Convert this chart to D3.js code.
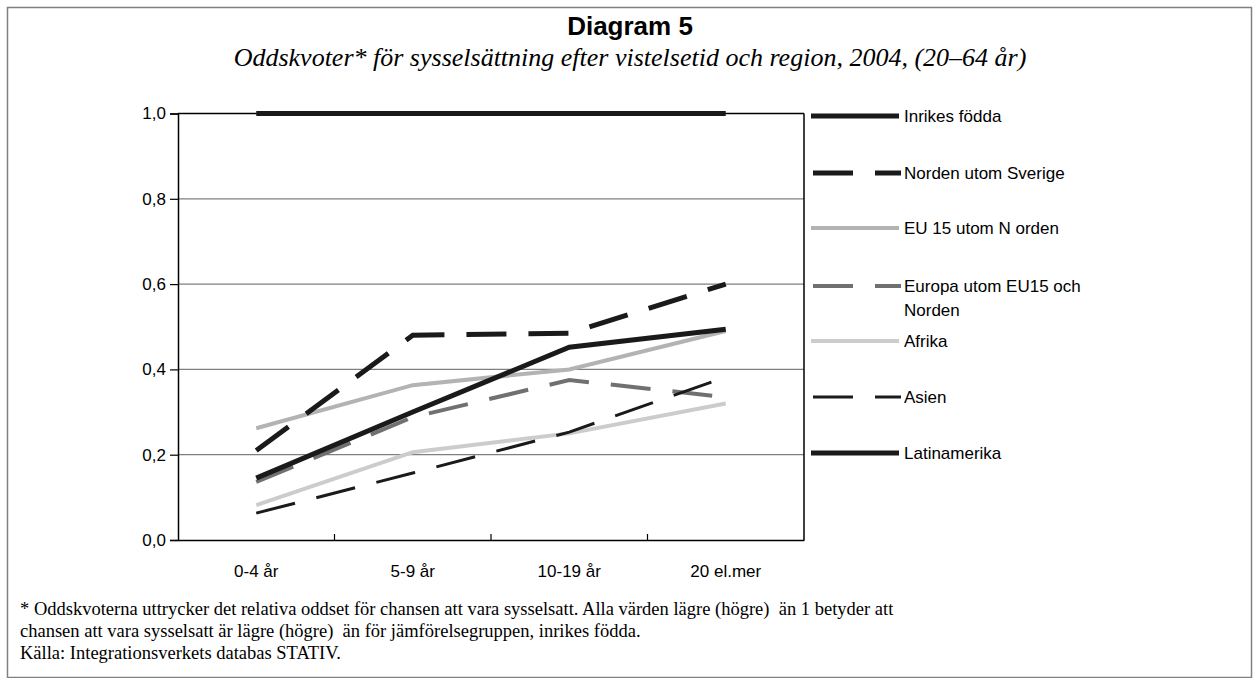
<!DOCTYPE html>
<html><head><meta charset="utf-8">
<script src="https://cdn.jsdelivr.net/npm/d3@7"></script>
<style>
body{margin:0;background:#fff;}
svg{display:block;}
</style></head>
<body>
<svg id="chart" width="1259" height="678"></svg>
<script>
const categories = ["0-4 år", "5-9 år", "10-19 år", "20 el.mer"];
const yTicks = [0, 0.2, 0.4, 0.6, 0.8, 1.0];
const seriesNames = ["Inrikes födda", "Norden utom Sverige", "EU 15 utom N orden", "Europa utom EU15 och Norden", "Afrika", "Asien", "Latinamerika"];
const inrikes = [1.0, 1.0, 1.0, 1.0];
const norden = [0.21, 0.48, 0.485, 0.60];
const eu15 = [0.262, 0.363, 0.40, 0.49];
const europa = [0.136, 0.288, 0.375, 0.335];
const afrika = [0.082, 0.206, 0.25, 0.32];
const asien = [0.063, 0.157, 0.253, 0.382];
const latin = [0.145, 0.30, 0.452, 0.494];

const styles = [
  {color:"#1a1a1a", width:5, dash:null},
  {color:"#1a1a1a", width:5, dash:"40,22"},
  {color:"#b3b3b3", width:4, dash:null},
  {color:"#707070", width:4, dash:"40,22"},
  {color:"#cccccc", width:4, dash:null},
  {color:"#1a1a1a", width:3, dash:"40,22"},
  {color:"#1a1a1a", width:5, dash:null}
];
const seriesValues = [inrikes, norden, eu15, europa, afrika, asien, latin];

const svg = d3.select("#chart");
const L = 178, R = 804, T = 113.5, B = 540;

// outer frame
svg.append("rect").attr("x",7.5).attr("y",7.5).attr("width",1259-15).attr("height",678-8)
  .attr("fill","none").attr("stroke","#808080").attr("stroke-width",1.5);

svg.append("text").attr("x",630).attr("y",35).attr("text-anchor","middle")
  .style("font-family","'Liberation Sans', Arial, sans-serif").style("font-weight","bold").style("font-size","26px")
  .text("Diagram 5");
svg.append("text").attr("x",630).attr("y",66).attr("text-anchor","middle")
  .style("font-family","'Liberation Serif', 'Times New Roman', serif").style("font-style","italic").style("font-size","26px")
  .text("Oddskvoter* för sysselsättning efter vistelsetid och region, 2004, (20–64 år)");

const x = d3.scaleBand().domain(categories).range([L, R]);
const y = d3.scaleLinear().domain([0, 1]).range([B, T]);

// gridlines
svg.append("g").selectAll("line").data(yTicks.filter(d => d > 0 && d < 1)).join("line")
  .attr("x1", L).attr("x2", R).attr("y1", d => y(d)).attr("y2", d => y(d))
  .attr("stroke", "#808080").attr("stroke-width", 1.2);

// plot border
svg.append("line").attr("x1",L).attr("x2",R).attr("y1",T).attr("y2",T).attr("stroke","#000").attr("stroke-width",1.5);
svg.append("line").attr("x1",R).attr("x2",R).attr("y1",T).attr("y2",B).attr("stroke","#000").attr("stroke-width",1.5);

// y axis
const yAxis = svg.append("g").attr("transform", `translate(${L},0)`)
  .call(d3.axisLeft(y).tickValues(yTicks).tickSize(8).tickPadding(4).tickFormat(d => d3.format(".1f")(d).replace(".", ",")));
yAxis.select(".domain").attr("stroke","#000").attr("stroke-width",1.5);
yAxis.selectAll(".tick line").attr("stroke","#000").attr("stroke-width",1.2);
yAxis.selectAll("text").style("font-family","'Liberation Sans', Arial, sans-serif").style("font-size","17px").attr("fill","#000");

// x axis
const xAxis = svg.append("g").attr("transform", `translate(0,${B})`)
  .call(d3.axisBottom(x).tickSize(0).tickPadding(25));
xAxis.select(".domain").attr("stroke","#000").attr("stroke-width",1.5);
xAxis.selectAll("text").style("font-family","'Liberation Sans', Arial, sans-serif").style("font-size","17px").attr("fill","#000");
// inner ticks at category boundaries
svg.append("g").selectAll("line").data(categories.slice(1)).join("line")
  .attr("x1", d => x(d)).attr("x2", d => x(d)).attr("y1", B).attr("y2", B - 6)
  .attr("stroke","#000").attr("stroke-width",1.2);

// lines
const line = d3.line().x((d, i) => x(categories[i]) + x.bandwidth() / 2).y(d => y(d));
const order = [4, 2, 3, 5, 1, 6, 0];
order.forEach(k => {
  svg.append("path").datum(seriesValues[k]).attr("d", line)
    .attr("fill","none").attr("stroke", styles[k].color).attr("stroke-width", styles[k].width)
    .attr("stroke-dasharray", styles[k].dash).attr("stroke-linejoin","miter");
});

// legend
const legendY = [116, 173, 228, 286, 341, 397, 453];
const lg = svg.append("g");
seriesNames.forEach((name, k) => {
  const g = lg.append("g").attr("transform", `translate(0,${legendY[k]})`);
  if (styles[k].dash) {
    g.append("line").attr("x1",813).attr("x2",853).attr("y1",0).attr("y2",0)
      .attr("stroke",styles[k].color).attr("stroke-width",styles[k].width);
    g.append("line").attr("x1",875).attr("x2",901).attr("y1",0).attr("y2",0)
      .attr("stroke",styles[k].color).attr("stroke-width",styles[k].width);
  } else {
    g.append("line").attr("x1",811).attr("x2",899).attr("y1",0).attr("y2",0)
      .attr("stroke",styles[k].color).attr("stroke-width",styles[k].width);
  }
  const t = g.append("text").attr("x",904).attr("y",6)
    .style("font-family","'Liberation Sans', Arial, sans-serif").style("font-size","17px").attr("fill","#000");
  if (k === 3) {
    t.append("tspan").attr("x",904).text("Europa utom EU15 och");
    t.append("tspan").attr("x",904).attr("dy",24).text("Norden");
  } else {
    t.text(name);
  }
});

// footnote
const notes = [
  "* Oddskvoterna uttrycker det relativa oddset för chansen att vara sysselsatt. Alla värden lägre (högre)  än 1 betyder att",
  "chansen att vara sysselsatt är lägre (högre)  än för jämförelsegruppen, inrikes födda.",
  "Källa: Integrationsverkets databas STATIV."
];
svg.append("g").selectAll("text").data(notes).join("text")
  .attr("x", 20).attr("y", (d, i) => 615 + i * 22)
  .style("font-family","'Liberation Serif', 'Times New Roman', serif").style("font-size","18.5px").attr("fill","#000")
  .style("white-space","pre")
  .text(d => d);
</script>
</body></html>
